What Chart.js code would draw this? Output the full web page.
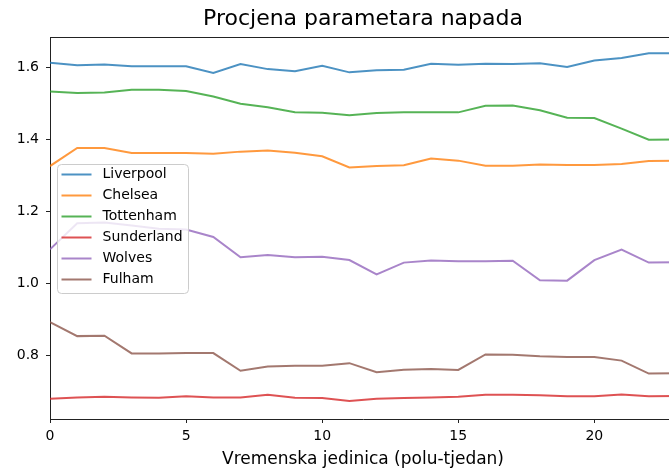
<!DOCTYPE html>
<html>
<head>
<meta charset="utf-8">
<script src="https://cdn.jsdelivr.net/npm/chart.js@4"></script>
<style>
  html, body { margin: 0; padding: 0; background: #fff; overflow: hidden; }
  #wrap { width: 690px; height: 473px; }
</style>
</head>
<body>
<div id="wrap"><canvas id="grafico" width="690" height="473"></canvas></div>
<script>
// vremenske jedinice 0..23
var koraci = [0,1,2,3,4,5,6,7,8,9,10,11,12,13,14,15,16,17,18,19,20,21,22,23];
var xTicks = [0, 5, 10, 15, 20];
var yTicks = [0.8, 1.0, 1.2, 1.4, 1.6];

var timovi = ['Liverpool', 'Chelsea', 'Tottenham', 'Sunderland', 'Wolves', 'Fulham'];

var liverpool = [1.613,1.606,1.608,1.603,1.603,1.603,1.584,1.609,1.595,1.589,1.604,1.586,
                 1.592,1.593,1.610,1.607,1.610,1.609,1.611,1.601,1.619,1.626,1.639,1.639];
var chelsea = [1.326,1.376,1.376,1.362,1.362,1.362,1.360,1.366,1.369,1.363,1.353,1.322,
               1.326,1.328,1.347,1.341,1.327,1.327,1.330,1.329,1.329,1.332,1.340,1.341];
var tottenham = [1.533,1.529,1.530,1.538,1.538,1.534,1.519,1.499,1.489,1.475,1.474,1.467,
                 1.473,1.475,1.475,1.475,1.493,1.494,1.481,1.460,1.459,1.430,1.399,1.400];
var sunderland = [0.680,0.684,0.686,0.684,0.683,0.687,0.684,0.684,0.691,0.683,0.682,0.674,
                  0.680,0.682,0.684,0.686,0.691,0.691,0.690,0.687,0.687,0.692,0.687,0.688];
var wolves = [1.095,1.167,1.169,1.161,1.152,1.150,1.129,1.073,1.079,1.073,1.074,1.065,
              1.025,1.058,1.064,1.062,1.062,1.063,1.009,1.008,1.065,1.094,1.058,1.059];
var fulham = [0.893,0.854,0.855,0.806,0.806,0.807,0.807,0.758,0.770,0.772,0.772,0.779,
              0.754,0.761,0.763,0.760,0.803,0.802,0.798,0.796,0.796,0.786,0.750,0.751];

var boje = [
    'rgba(31, 119, 180, 0.8)',
    'rgba(255, 127, 14, 0.8)',
    'rgba(44, 160, 44, 0.8)',
    'rgba(214, 39, 40, 0.8)',
    'rgba(148, 103, 189, 0.8)',
    'rgba(140, 86, 75, 0.8)'
];

var serije = [liverpool, chelsea, tottenham, sunderland, wolves, fulham];
var FONT = "'DejaVu Sans', sans-serif";

function tocke(niz) {
    return niz.map(function (v, i) { return { x: koraci[i], y: v }; });
}

// gornji rub grafa (matplotlib spine)
const gornjiRub = {
    id: 'gornjiRub',
    afterDraw(chart) {
        const a = chart.chartArea;
        const ctx = chart.ctx;
        ctx.save();
        ctx.strokeStyle = '#222';
        ctx.lineWidth = 1;
        ctx.beginPath();
        ctx.moveTo(a.left, Math.round(a.top) + 0.5);
        ctx.lineTo(a.right, Math.round(a.top) + 0.5);
        ctx.stroke();
        ctx.restore();
    }
};

// legenda unutar grafa, lijevo u sredini
const legenda = {
    id: 'legenda',
    afterDatasetsDraw(chart) {
        const a = chart.chartArea;
        const ctx = chart.ctx;
        const red = 21, w = 131, h = 129;
        const x0 = a.left + 7.5;
        const y0 = Math.round((a.top + a.bottom) / 2 - h / 2) + 0.5;
        ctx.save();
        ctx.beginPath();
        ctx.roundRect(x0, y0, w, h, 4);
        ctx.fillStyle = 'rgba(255,255,255,0.8)';
        ctx.fill();
        ctx.strokeStyle = '#cccccc';
        ctx.lineWidth = 1;
        ctx.stroke();
        ctx.font = '14px ' + FONT;
        ctx.textBaseline = 'middle';
        ctx.textAlign = 'left';
        chart.data.datasets.forEach(function (ds, i) {
            const y = y0 + 10 + i * red;
            ctx.strokeStyle = ds.borderColor;
            ctx.lineWidth = 2;
            ctx.beginPath();
            ctx.moveTo(x0 + 4, y);
            ctx.lineTo(x0 + 34, y);
            ctx.stroke();
            ctx.fillStyle = '#000';
            ctx.fillText(ds.label, x0 + 45, y);
        });
        ctx.restore();
    }
};

function criarGrafico() {
    const datasets = timovi.map(function (t, i) {
        return {
            label: t,
            data: tocke(serije[i]),
            borderColor: boje[i],
            backgroundColor: boje[i],
            borderWidth: 2,
            pointRadius: 0,
            tension: 0,
            fill: false
        };
    });

    const config = {
        type: 'line',
        data: { datasets: datasets },
        options: {
            responsive: false,
            animation: false,
            layout: { padding: { left: 0, right: 14, top: 0, bottom: 0 } },
            plugins: {
                legend: { display: false },
                tooltip: { enabled: false },
                title: {
                    display: true,
                    text: 'Procjena parametara napada',
                    fullSize: false,
                    color: '#000',
                    font: { family: FONT, size: 22, weight: 'normal' },
                    padding: { top: 6, bottom: 5 }
                }
            },
            scales: {
                x: {
                    type: 'linear',
                    min: 0,
                    max: 23,
                    afterBuildTicks: function (s) { s.ticks = xTicks.map(function (v) { return { value: v }; }); },
                    afterFit: function (s) { s.height = 54; },
                    grid: { drawOnChartArea: false, drawTicks: true, tickLength: 4, color: '#222' },
                    border: { display: true, color: '#222', width: 1 },
                    ticks: {
                        color: '#000',
                        padding: 5,
                        maxRotation: 0,
                        font: { family: FONT, size: 14 },
                        callback: function (v) { return String(v); }
                    },
                    title: {
                        display: true,
                        text: 'Vremenska jedinica (polu-tjedan)',
                        color: '#000',
                        font: { family: FONT, size: 17 },
                        padding: { top: 0, bottom: 3 }
                    }
                },
                y: {
                    type: 'linear',
                    min: 0.624,
                    max: 1.683,
                    afterBuildTicks: function (s) { s.ticks = yTicks.map(function (v) { return { value: v }; }); },
                    afterFit: function (s) { s.width = 50; },
                    grid: { drawOnChartArea: false, drawTicks: true, tickLength: 4, color: '#222' },
                    border: { display: true, color: '#222', width: 1 },
                    ticks: {
                        color: '#000',
                        padding: 7,
                        font: { family: FONT, size: 14 },
                        callback: function (v) { return v.toFixed(1); }
                    }
                }
            }
        },
        plugins: [gornjiRub, legenda]
    };

    new Chart(document.getElementById('grafico'), config);
}

criarGrafico();
</script>
</body>
</html>
